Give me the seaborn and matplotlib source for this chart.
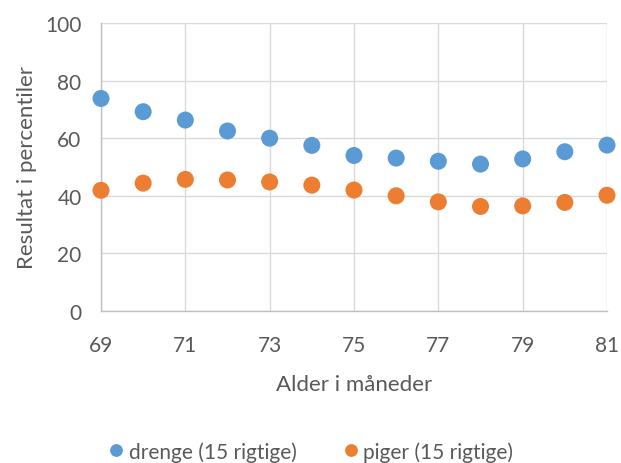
import pandas as pd
import matplotlib.pyplot as plt
import seaborn as sns

# data
alder = [69, 70, 71, 72, 73, 74, 75, 76, 77, 78, 79, 80, 81]
drenge = [73.8, 69.2, 66.3, 62.5, 60.0, 57.5, 54.0, 53.1, 52.0, 51.0, 52.8, 55.3, 57.6]
piger = [41.9, 44.4, 45.7, 45.5, 44.8, 43.7, 42.0, 40.0, 37.9, 36.3, 36.5, 37.7, 40.2]
serier = ['drenge (15 rigtige)', 'piger (15 rigtige)']

df = pd.DataFrame({
    'alder': alder * 2,
    'resultat': drenge + piger,
    'serie': [serier[0]] * len(alder) + [serier[1]] * len(alder),
})

sns.set_style('white')
plt.rcParams['font.family'] = ['Lato', 'DejaVu Sans']
tekst = '#595959'

fig = plt.figure(figsize=(6.21, 4.64), dpi=100)
ax = fig.add_axes([101 / 621, 1 - 312 / 464, 506 / 621, 288 / 464])

sns.scatterplot(data=df, x='alder', y='resultat', hue='serie',
                palette=['#5b9bd5', '#ed7d31'], s=150, edgecolor='none',
                clip_on=False, zorder=3, ax=ax)

ax.set_xlim(69, 81)
ax.set_ylim(0, 100)
ax.set_xticks(range(69, 82, 2))
ax.set_yticks(range(0, 101, 20))
ax.grid(True, color='#d9d9d9', linewidth=1)
ax.set_axisbelow(True)
for side in ['top', 'right']:
    ax.spines[side].set_visible(False)
for side in ['left', 'bottom']:
    ax.spines[side].set_color('#bfbfbf')
    ax.spines[side].set_linewidth(1)
ax.tick_params(length=0, colors=tekst, labelsize=15)
ax.tick_params(axis='x', pad=17)
ax.tick_params(axis='y', pad=14)

ax.set_xlabel('Alder i måneder', fontsize=16, color=tekst, labelpad=14)
ax.set_ylabel('Resultat i percentiler', fontsize=16, color=tekst, labelpad=6)

# legend centred under the whole figure, like Excel
handles, labels = ax.get_legend_handles_labels()
ax.get_legend().remove()
fig.legend(handles, labels, loc='center', bbox_to_anchor=(0.5, 0.025),
           ncol=2, frameon=False, fontsize=15, labelcolor=tekst,
           handlelength=0.8, handletextpad=0.2, columnspacing=2.2, markerscale=0.75)

fig.savefig('out.png', dpi=100)
